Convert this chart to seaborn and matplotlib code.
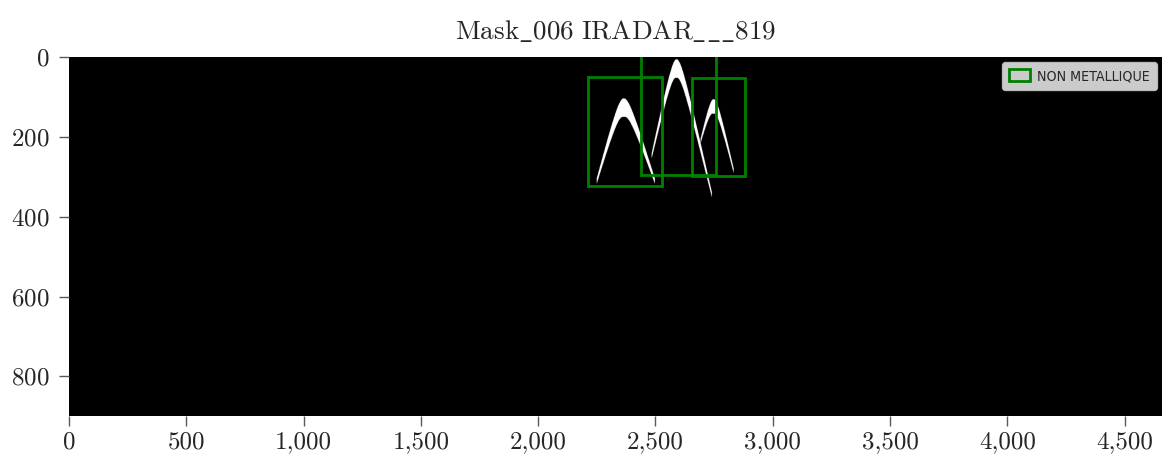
import numpy as np
import matplotlib
matplotlib.use("Agg")
import matplotlib.pyplot as plt
import seaborn as sns
from matplotlib.patches import Rectangle, Patch
from matplotlib.ticker import FuncFormatter, MultipleLocator
from matplotlib import font_manager as fm

# ---- data ----
img_width = 4660
img_height = 900

# hyperbola signatures (white) in image coordinates
apex_x = [2365, 2590, 2748]
apex_y = [103, 5, 105]
left_end_x = [2250, 2484, 2693]
left_end_y = [303, 240, 203]
right_end_x = [2497, 2740, 2833]
right_end_y = [303, 337, 278]
apex_thickness = [42, 42, 32]
apex_round = [30, 25, 22]

# detection boxes
box_x0 = [2213, 2437, 2654]
box_y0 = [49, -30, 52]
box_x1 = [2527, 2757, 2883]
box_y1 = [322, 295, 299]
box_label = "NON METALLIQUE"

title = r"$\mathrm{Mask\_006\ IRADAR\_\_\_819}$"

# ---- build mask ----
mask = np.zeros((img_height, img_width), dtype=float)
yy = np.arange(img_height)[:, None]
for ax_, ay, lx, ly, rx, ry, t0, c in zip(apex_x, apex_y, left_end_x, left_end_y,
                                          right_end_x, right_end_y, apex_thickness, apex_round):
    xs = np.arange(lx, rx + 1)
    dx = xs - ax_
    L = np.where(dx < 0, ax_ - lx, rx - ax_).astype(float)
    H = np.where(dx < 0, ly - ay, ry - ay).astype(float)
    m = H / (np.sqrt(L ** 2 + c ** 2) - c)
    yu = ay + m * (np.sqrt(dx ** 2 + c ** 2) - c)
    frac = np.abs(dx) / L
    t = t0 * (1 - 0.8 * frac) + 5
    yl = yu + t
    band = (yy >= yu[None, :]) & (yy <= yl[None, :])
    mask[:, lx:rx + 1] = np.maximum(mask[:, lx:rx + 1], band.astype(float))

# ---- plot ----
sns.set_style("ticks")
plt.rcParams["font.family"] = "serif"
plt.rcParams["font.serif"] = ["cmr10", "DejaVu Serif"]
plt.rcParams["mathtext.fontset"] = "cm"
plt.rcParams["axes.formatter.use_mathtext"] = True

fig = plt.figure(figsize=(11.62, 4.62), dpi=100)
ax = fig.add_axes([69 / 1162, 46 / 462, 1 - 69 / 1162, (416 - 57) / 462])
ax.imshow(mask, cmap="gray", vmin=0, vmax=1, aspect="auto", interpolation="antialiased")

for x0, y0, x1, y1 in zip(box_x0, box_y0, box_x1, box_y1):
    ax.add_patch(Rectangle((x0, y0), x1 - x0, y1 - y0, fill=False,
                           edgecolor="green", linewidth=2))

ax.set_xlim(-0.5, img_width - 0.5)
ax.set_ylim(img_height - 0.5, -0.5)
ax.xaxis.set_major_locator(MultipleLocator(500))
ax.yaxis.set_major_locator(MultipleLocator(200))
ax.xaxis.set_major_formatter(FuncFormatter(lambda v, p: f"{int(round(v)):,}"))
ax.tick_params(labelsize=18, length=7, width=1, color="0.35")
ax.tick_params(axis="x", pad=4)
ax.tick_params(axis="y", pad=7)
for s in ax.spines.values():
    s.set_visible(False)

ax.set_title(title, fontsize=19.5, pad=13)

handle = Patch(facecolor="none", edgecolor="green", linewidth=2, label=box_label)
leg_font = fm.FontProperties(family="DejaVu Sans", stretch="condensed", size=10.2)
leg = ax.legend(handles=[handle], loc="upper right", prop=leg_font,
                handlelength=1.5, handleheight=0.9, borderaxespad=0.35,
                handletextpad=0.5, borderpad=0.5)

fig.savefig("out.png", dpi=100)
